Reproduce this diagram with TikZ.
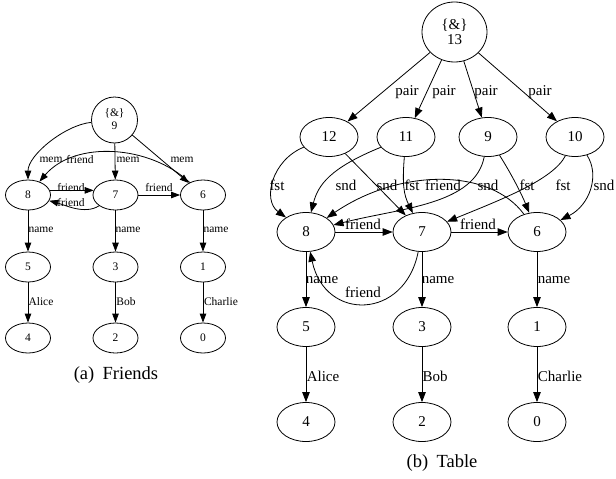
\documentclass[tikz,border=0pt]{standalone}
\usepackage{fontspec}
\setmainfont{Liberation Serif}
\usetikzlibrary{arrows.meta,shapes.geometric}

\tikzset{
  lnode/.style={ellipse, draw, line width=0.8pt, minimum width=45pt, minimum height=30pt,
    inner sep=0pt, font=\fontsize{11.5}{13}\selectfont},
  lroot/.style={circle, draw, line width=0.8pt, minimum size=46pt, inner sep=0pt,
    font=\fontsize{11.5}{13}\selectfont},
  rnode/.style={ellipse, draw, line width=0.8pt, minimum width=58pt, minimum height=39pt,
    inner sep=0pt, font=\fontsize{15}{16}\selectfont},
  rroot/.style={ellipse, draw, line width=0.8pt, minimum width=65pt, minimum height=60pt,
    inner sep=0pt, align=center, font=\fontsize{15}{14.5}\selectfont},
  ledge/.style={-{Triangle[length=9pt,width=6.5pt]}, line width=0.8pt},
  redge/.style={-{Triangle[length=10pt,width=7.5pt]}, line width=0.8pt},
  llab/.style={inner sep=0pt, font=\fontsize{11.5}{13}\selectfont},
  rlab/.style={inner sep=0pt, font=\fontsize{15}{16}\selectfont},
  capt/.style={inner sep=0pt, font=\fontsize{18.5}{20}\selectfont},
}

\begin{document}
\begin{tikzpicture}[x=1pt, y=-1pt]
\useasboundingbox (0,0) rectangle (616,479);

% ---------- (a) Friends ----------
\node[lroot] (n9) at (114.5,120)
  {\raisebox{3.5pt}{\begin{tabular}{@{}c@{}}\{\&\}\\9\end{tabular}}};
\node[lnode] (a8) at (28,195) {8};
\node[lnode] (a7) at (115.5,195) {7};
\node[lnode] (a6) at (203,195) {6};
\node[lnode] (a5) at (28,267) {5};
\node[lnode] (a3) at (115.5,267) {3};
\node[lnode] (a1) at (203,267) {1};
\node[lnode] (a4) at (28,338) {4};
\node[lnode] (a2) at (115.5,338) {2};
\node[lnode] (a0) at (203,338) {0};

\draw[ledge] (n9) .. controls (65,125) and (28,155) .. (a8);
\draw[ledge] (n9) -- (a7);
\draw[ledge] (n9) -- (a6);
\draw[ledge] (a6) .. controls (150,145) and (75,140) .. (a8);
\draw[ledge] (a8.12) -- (a7.168);
\draw[ledge] (a7) .. controls (85,215) and (65,205) .. (a8);
\draw[ledge] (a7) -- (a6);
\draw[ledge] (a8) -- (a5);
\draw[ledge] (a7) -- (a3);
\draw[ledge] (a6) -- (a1);
\draw[ledge] (a5) -- (a4);
\draw[ledge] (a3) -- (a2);
\draw[ledge] (a1) -- (a0);

\node[llab] (la1) at (51,160) {mem};
\node[llab] (la2) at (80,160) {friend};
\node[llab] (la3) at (128,160) {mem};
\node[llab] (la4) at (182,160) {mem};
\node[llab] (la5) at (71,188) {friend};
\node[llab] (la6) at (71,203) {friend};
\node[llab] (la7) at (159,188) {friend};
\node[llab] (la8) at (41,230) {name};
\node[llab] (la9) at (128,230) {name};
\node[llab] (la10) at (216,230) {name};
\node[llab] (la11) at (41,302) {Alice};
\node[llab] (la12) at (126,302) {Bob};
\node[llab] (la13) at (221,302) {Charlie};

\node[capt] (capa) at (116,375) {(a)\hspace{0.45em}Friends};

% ---------- (b) Table ----------
\node[rroot] (b13) at (454.5,32) {\{\&\}\\13};
\node[rnode] (b12) at (329,137) {12};
\node[rnode] (b11) at (406,137) {11};
\node[rnode] (b9)  at (488,137) {9};
\node[rnode] (b10) at (575,137) {10};
\node[rnode] (b8) at (306,232) {8};
\node[rnode] (b7) at (422,232) {7};
\node[rnode] (b6) at (537,232) {6};
\node[rnode] (b5) at (306,327) {5};
\node[rnode] (b3) at (422,327) {3};
\node[rnode] (b1) at (537,327) {1};
\node[rnode] (b4) at (306,422) {4};
\node[rnode] (b2) at (422,422) {2};
\node[rnode] (b0) at (537,422) {0};

\draw[redge] (b13) -- (b12);
\draw[redge] (b13) -- (b11);
\draw[redge] (b13) -- (b9);
\draw[redge] (b13) -- (b10);

\draw[redge] (b12) .. controls (272,160) and (262,200) .. (b8);
\draw[redge] (b12) -- (b7);
\draw[redge] (b11) .. controls (330,168) and (318,185) .. (b8);
\draw[redge] (b11) .. controls (402,185) and (404,195) .. (b7);
\draw[redge] (b9) .. controls (475,205) and (400,208) .. (b8);
\draw[redge] (b9) .. controls (512,175) and (522,195) .. (b6);
\draw[redge] (b10) .. controls (553,180) and (500,200) .. (b7);
\draw[redge] (b10) .. controls (600,175) and (590,205) .. (b6);

\draw[redge] (b8) -- (b7);
\draw[redge] (b7) -- (b6);
\draw[redge] (b7) .. controls (405,320) and (325,322) .. (b8);
\draw[redge] (b6) .. controls (490,168) and (400,168) .. (b8);

\draw[redge] (b8) -- (b5);
\draw[redge] (b7) -- (b3);
\draw[redge] (b6) -- (b1);
\draw[redge] (b5) -- (b4);
\draw[redge] (b3) -- (b2);
\draw[redge] (b1) -- (b0);

\node[rlab] (lb1) at (407,92) {pair};
\node[rlab] (lb2) at (444,92) {pair};
\node[rlab] (lb3) at (486,92) {pair};
\node[rlab] (lb4) at (540,92) {pair};
\node[rlab] (lb5) at (277,185) {fst};
\node[rlab] (lb6) at (346,185) {snd};
\node[rlab] (lb7) at (387,185) {snd};
\node[rlab] (lb8) at (412,185) {fst};
\node[rlab] (lb9) at (443,185) {friend};
\node[rlab] (lb10) at (488,185) {snd};
\node[rlab] (lb11) at (527,185) {fst};
\node[rlab] (lb12) at (563,185) {fst};
\node[rlab] (lb13) at (604,185) {snd};
\node[rlab] (lb14) at (363,224) {friend};
\node[rlab] (lb15) at (478,224) {friend};
\node[rlab] (lb16) at (322,280) {name};
\node[rlab] (lb17) at (438,280) {name};
\node[rlab] (lb18) at (554,280) {name};
\node[rlab] (lb19) at (363,292) {friend};
\node[rlab] (lb20) at (323,376) {Alice};
\node[rlab] (lb21) at (435,376) {Bob};
\node[rlab] (lb22) at (560,376) {Charlie};

\node[capt] (capb) at (442,463) {(b)\hspace{0.45em}Table};
\end{tikzpicture}
\end{document}
